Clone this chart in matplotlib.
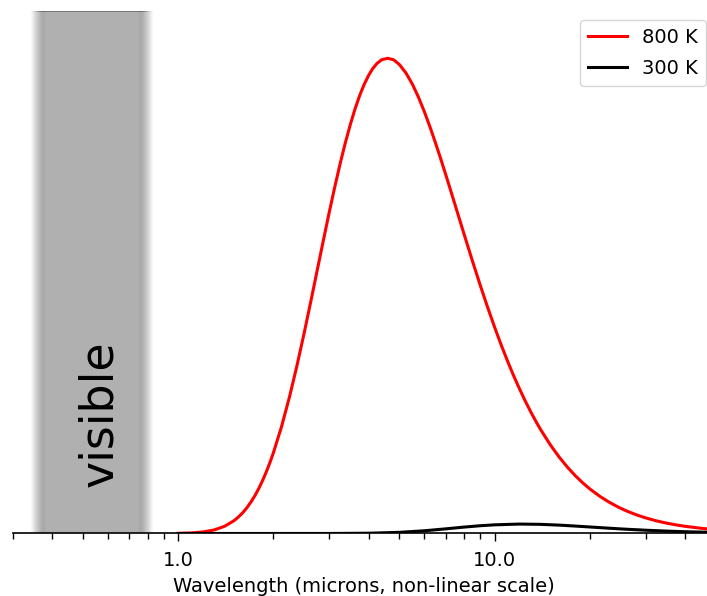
import numpy as np
import matplotlib
matplotlib.use('Agg')
import matplotlib.pyplot as plt
from matplotlib.ticker import FormatStrFormatter, NullFormatter

# wavelength (microns) and relative intensity (lambda * B_lambda, 800 K peak = 1)
wl_800 = [1.0, 1.1, 1.2, 1.3, 1.4, 1.5, 1.55, 1.6, 1.65, 1.7, 1.75, 1.8, 1.85,
          1.9, 1.95, 2.0, 2.12, 2.25, 2.37, 2.5, 2.62, 2.75, 2.87, 3.0, 3.12,
          3.25, 3.37, 3.5, 3.62, 3.75, 3.87, 4.0, 4.12, 4.25, 4.4, 4.6, 4.8,
          5.0, 5.25, 5.5, 5.75, 6.0, 6.25, 6.5, 6.75, 7.0, 7.25, 7.5, 7.75,
          8.0, 8.5, 9.0, 9.5, 10, 10.5, 11, 11.5, 12, 12.5, 13, 13.5, 14, 15,
          16, 17, 18, 19, 20, 21.5, 23, 24.5, 26, 28, 30, 32.5, 35, 37.5, 40,
          45, 50]
val_800 = [0.0003, 0.0012, 0.0033, 0.0075, 0.0150, 0.0268, 0.0347, 0.0438,
           0.0545, 0.0667, 0.0803, 0.0954, 0.1121, 0.1301, 0.1495, 0.1701,
           0.2242, 0.2885, 0.3514, 0.4212, 0.4856, 0.5536, 0.6137, 0.6749,
           0.7269, 0.7782, 0.8204, 0.8605, 0.8928, 0.9223, 0.9447, 0.9642,
           0.9781, 0.9890, 0.9969, 0.9998, 0.9965, 0.9868, 0.9686, 0.9452,
           0.9175, 0.8873, 0.8553, 0.8224, 0.7893, 0.7562, 0.7235, 0.6917,
           0.6608, 0.6309, 0.5746, 0.5232, 0.4765, 0.4343, 0.3962, 0.3620,
           0.3313, 0.3037, 0.2788, 0.2564, 0.2362, 0.2180, 0.1866, 0.1608,
           0.1394, 0.1215, 0.1065, 0.0938, 0.0783, 0.0660, 0.0561, 0.0480,
           0.0395, 0.0329, 0.0265, 0.0217, 0.0180, 0.0151, 0.0109, 0.0081]

wl_300 = [1.0, 2.0, 3.0, 4.0, 5.0, 6.0, 7.0, 8.0, 9.0, 10, 12, 14, 16, 18, 20,
          23, 26, 30, 35, 40, 50]
val_300 = [0.0, 0.0, 0.00003, 0.00053, 0.0024, 0.0057, 0.0097, 0.0134, 0.0163,
           0.0182, 0.0198, 0.0192, 0.0176, 0.0156, 0.0137, 0.0111, 0.0090,
           0.0069, 0.0050, 0.0037, 0.0022]

labels = ['800 K', '300 K']
vis_lo, vis_hi = 0.38, 0.75

fig = plt.figure(figsize=(7.07, 5.96), dpi=100)
ax = fig.add_axes([0.0181, 0.1049, 0.9942, 0.8772])
ax.set_xscale('log')

# blurred grey band for the visible range
off = np.array([-0.048, -0.039, -0.029, -0.017, -0.010, -0.002, 0.003])
shade = np.array([1.0, 0.93, 0.82, 0.72, 0.665, 0.665, 0.69])
ku = np.concatenate([np.log10(vis_lo) + off, np.log10(vis_hi) - off[::-1]])
kv = np.concatenate([shade, shade[::-1]])
u = np.linspace(ku[0], ku[-1], 301)
uc = 0.5 * (u[:-1] + u[1:])
col = np.interp(uc, ku, kv)
top = 1 - (1 - col) * 1.7
C = np.vstack([col, np.clip(top, 0, 1)])
ax.pcolormesh(10 ** u, [0, 1.1 - 0.0025, 1.1], C, cmap='gray', vmin=0, vmax=1,
              shading='flat', edgecolors='none', antialiased=False, zorder=0)

ax.plot(wl_800, val_800, color='red', lw=2.2, label=labels[0])
ax.plot(wl_300, val_300, color='black', lw=2.2, label=labels[1])

ax.text(0.564, 0.2525, 'visible', rotation=90, fontsize=33,
        ha='center', va='center')

ax.set_xlim(0.3, 50)
ax.set_ylim(0, 1.1)
ax.set_yticks([])
for s in ['left', 'top', 'right']:
    ax.spines[s].set_visible(False)
ax.spines['bottom'].set_linewidth(1.2)
ax.xaxis.set_major_formatter(FormatStrFormatter('%.1f'))
ax.xaxis.set_minor_formatter(NullFormatter())
ax.tick_params(axis='x', which='major', length=5.8, width=1, labelsize=14, pad=6.5)
ax.tick_params(axis='x', which='minor', length=4.2, width=1)
ax.set_xlabel('Wavelength (microns, non-linear scale)', fontsize=14, labelpad=5.5)
ax.legend(loc='upper right', fontsize=14, labelspacing=0.6)

fig.savefig('out.png', dpi=100)
